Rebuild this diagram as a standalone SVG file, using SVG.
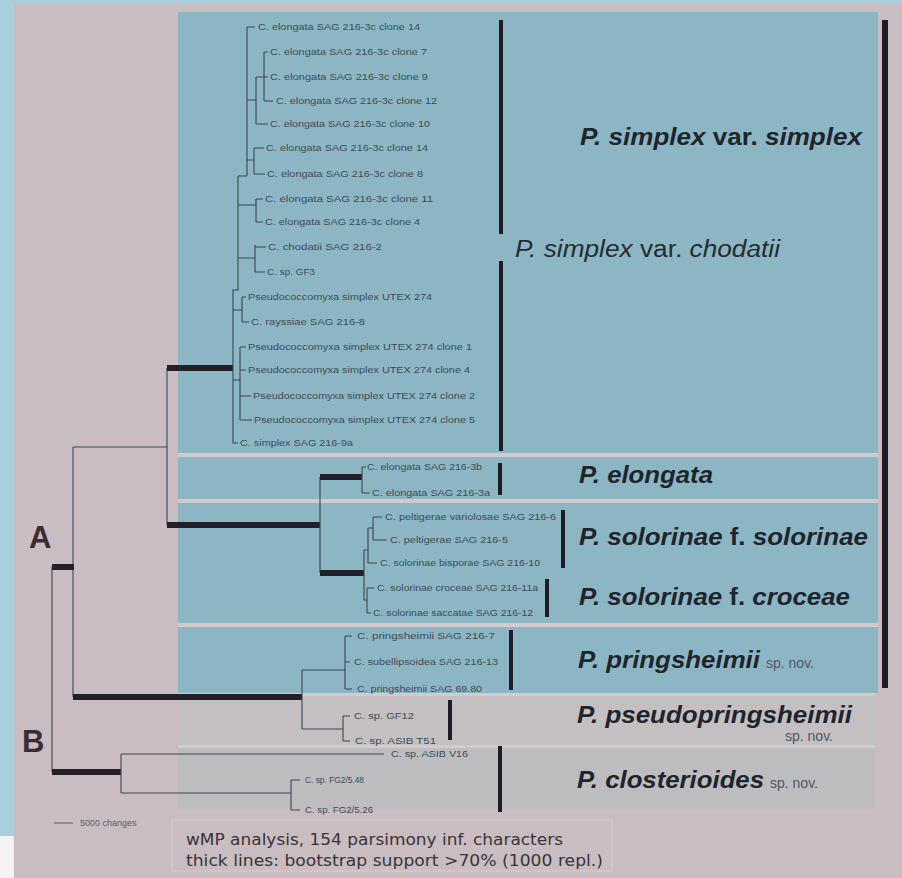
<svg xmlns="http://www.w3.org/2000/svg" width="902" height="878" viewBox="0 0 902 878">
  <style>
    .bg { fill: #c9bdc1; }
    .frame { fill: #a8cfdb; }
    .panel { fill: #8cb6c4; }
    .panel-grey { fill: #c4bfc1; }
    .panel-grey2 { fill: #bdbcbf; }
    .gap { fill: #d2cace; }
    .br { fill: none; stroke: #3b4650; stroke-width: 1.1; }
    .thick { fill: none; stroke: #23202a; stroke-width: 6; stroke-linecap: butt; }
    .bar { fill: #1f1c26; }
    .tip { font-family: "Liberation Sans", Arial, sans-serif; font-size: 8.5px; fill: #3e4b55; }
    .sp { font-family: "Liberation Sans", Arial, sans-serif; font-size: 23px; font-weight: bold; font-style: italic; fill: #1f252c; }
    .sp-reg { font-family: "Liberation Sans", Arial, sans-serif; font-size: 23px; font-style: italic; fill: #252b33; }
    .up { font-style: normal; }
    .nov { font-family: "Liberation Sans", Arial, sans-serif; font-size: 14px; font-weight: normal; font-style: normal; fill: #4d5863; }
    .clade { font-family: "Liberation Sans", Arial, sans-serif; font-size: 31px; font-weight: bold; fill: #3a2d38; }
    .cap { font-family: "DejaVu Sans", Verdana, sans-serif; font-size: 15px; fill: #3a3338; }
    .scale { font-family: "Liberation Sans", Arial, sans-serif; font-size: 9px; fill: #5a5d66; }
  </style>

  <!-- background and frame -->
  <rect class="bg" x="0" y="0" width="902" height="878"/>
  <rect class="frame" x="0" y="0" width="902" height="4"/>
  <rect class="frame" x="0" y="0" width="14" height="836"/>
  <rect x="0" y="836" width="14" height="42" fill="#f4f2f3"/>

  <!-- clade panels -->
  <g id="panels">
    <rect class="gap" x="178" y="452" width="700" height="6"/>
    <rect class="gap" x="178" y="498" width="700" height="6"/>
    <rect class="gap" x="178" y="622" width="700" height="6"/>
    <rect class="gap" x="178" y="692" width="697" height="5"/>
    <rect class="gap" x="178" y="744" width="697" height="5"/>
    <rect class="panel" x="178" y="12" width="700" height="441"/>
    <rect class="panel" x="178" y="457" width="700" height="42"/>
    <rect class="panel" x="178" y="503" width="700" height="120"/>
    <rect class="panel" x="178" y="627" width="700" height="66"/>
    <rect class="panel-grey" x="178" y="696" width="697" height="49"/>
    <rect class="panel-grey2" x="178" y="748" width="697" height="61"/>
  </g>

  <!-- tree branches -->
  <g id="connectors">
    <!-- backbone -->
    <path class="br" d="M52,567 V772"/>
    <path class="br" d="M73,447 V697"/>
    <path class="br" d="M73,447 H167 V525"/>
    <path class="br" d="M167,368 V447"/>
    <path class="thick" d="M52,567 H74"/>
    <path class="thick" d="M52,772 H121"/>
    <path class="thick" d="M73,697 H302"/>
    <path class="thick" d="M167,368 H233"/>
    <path class="thick" d="M167,525 H320"/>

    <!-- simplex / chodatii clade -->
    <path class="br" d="M238,176 V290 H233 V443 H238"/>
    <path class="br" d="M238,176 H247 M247,27 V176 M247,27 H255"/>
    <path class="br" d="M247,100 H256 M256,77 V124 M256,77 H264 M264,52 V101 M264,52 H268 M264,77 H268 M264,101 H273 M256,124 H268"/>
    <path class="br" d="M247,160 H254 M254,148 V174 M254,148 H264 M254,174 H265"/>
    <path class="br" d="M238,205 H256 M256,199 V222 M256,199 H263 M256,222 H263"/>
    <path class="br" d="M238,258 H255 M255,245 V272 M255,247 H266 M255,272 H265"/>
    <path class="br" d="M233,310 H242 M242,297 V322 M242,297 H246 M242,322 H249"/>
    <path class="br" d="M233,380 H240 M240,347 V420 M240,347 H246 M240,370 H246 M240,396 H251 M240,420 H252"/>

    <!-- elongata / solorinae -->
    <path class="br" d="M320,477 V573"/>
    <path class="thick" d="M320,477 H362"/>
    <path class="thick" d="M320,573 H364"/>
    <path class="br" d="M362,467 V493 M362,467 H366 M362,493 H370"/>
    <path class="br" d="M364,550 V600 M364,550 H368 M368,528 V563 M368,528 H373 M373,517 V540 M373,517 H382 M373,540 H387 M368,563 H377"/>
    <path class="br" d="M364,600 H367 M367,588 V613 M367,588 H374 M367,613 H371"/>

    <!-- pringsheimii / pseudopringsheimii -->
    <path class="br" d="M302,670 V729"/>
    <path class="br" d="M302,670 H345 M345,636 V689 M345,636 H352 M345,662 H350 M345,689 H352"/>
    <path class="br" d="M302,729 H343 M343,716 V741 M343,716 H350 M343,741 H350"/>

    <!-- closterioides -->
    <path class="br" d="M121,754 V793 M121,754 H384 M121,793 H291 M291,780 V810 M291,780 H300 M291,810 H300"/>
  </g>

  <!-- terminal labels -->
  <g id="tips">
    <text class="tip" x="258" y="30" textLength="162" lengthAdjust="spacingAndGlyphs">C. elongata SAG 216-3c clone 14</text>
    <text class="tip" x="270" y="55" textLength="157" lengthAdjust="spacingAndGlyphs">C. elongata SAG 216-3c clone 7</text>
    <text class="tip" x="270" y="80" textLength="158" lengthAdjust="spacingAndGlyphs">C. elongata SAG 216-3c clone 9</text>
    <text class="tip" x="276" y="104" textLength="161" lengthAdjust="spacingAndGlyphs">C. elongata SAG 216-3c clone 12</text>
    <text class="tip" x="270" y="127" textLength="160" lengthAdjust="spacingAndGlyphs">C. elongata SAG 216-3c clone 10</text>
    <text class="tip" x="266" y="151" textLength="162" lengthAdjust="spacingAndGlyphs">C. elongata SAG 216-3c clone 14</text>
    <text class="tip" x="267" y="177" textLength="156" lengthAdjust="spacingAndGlyphs">C. elongata SAG 216-3c clone 8</text>
    <text class="tip" x="265" y="202" textLength="168" lengthAdjust="spacingAndGlyphs">C. elongata SAG 216-3c clone 11</text>
    <text class="tip" x="265" y="225" textLength="155" lengthAdjust="spacingAndGlyphs">C. elongata SAG 216-3c clone 4</text>
    <text class="tip" x="268" y="250" textLength="114" lengthAdjust="spacingAndGlyphs">C. chodatii SAG 216-2</text>
    <text class="tip" x="267" y="275" textLength="48" lengthAdjust="spacingAndGlyphs">C. sp. GF3</text>
    <text class="tip" x="248" y="300" textLength="184" lengthAdjust="spacingAndGlyphs">Pseudococcomyxa simplex UTEX 274</text>
    <text class="tip" x="251" y="325" textLength="114" lengthAdjust="spacingAndGlyphs">C. rayssiae SAG 216-8</text>
    <text class="tip" x="248" y="350" textLength="224" lengthAdjust="spacingAndGlyphs">Pseudococcomyxa simplex UTEX 274 clone 1</text>
    <text class="tip" x="248" y="373" textLength="222" lengthAdjust="spacingAndGlyphs">Pseudococcomyxa simplex UTEX 274 clone 4</text>
    <text class="tip" x="253" y="399" textLength="222" lengthAdjust="spacingAndGlyphs">Pseudococcomyxa simplex UTEX 274 clone 2</text>
    <text class="tip" x="254" y="423" textLength="221" lengthAdjust="spacingAndGlyphs">Pseudococcomyxa simplex UTEX 274 clone 5</text>
    <text class="tip" x="240" y="446" textLength="113" lengthAdjust="spacingAndGlyphs">C. simplex SAG 216-9a</text>
    <text class="tip" x="367" y="470" textLength="115" lengthAdjust="spacingAndGlyphs">C. elongata SAG 216-3b</text>
    <text class="tip" x="372" y="496" textLength="118" lengthAdjust="spacingAndGlyphs">C. elongata SAG 216-3a</text>
    <text class="tip" x="385" y="520" textLength="171" lengthAdjust="spacingAndGlyphs">C. peltigerae variolosae SAG 216-6</text>
    <text class="tip" x="390" y="543" textLength="118" lengthAdjust="spacingAndGlyphs">C. peltigerae SAG 216-5</text>
    <text class="tip" x="380" y="566" textLength="160" lengthAdjust="spacingAndGlyphs">C. solorinae bisporae SAG 216-10</text>
    <text class="tip" x="377" y="591" textLength="161" lengthAdjust="spacingAndGlyphs">C. solorinae croceae SAG 216-11a</text>
    <text class="tip" x="373" y="616" textLength="160" lengthAdjust="spacingAndGlyphs">C. solorinae saccatae SAG 216-12</text>
    <text class="tip" x="357" y="639" textLength="138" lengthAdjust="spacingAndGlyphs">C. pringsheimii SAG 216-7</text>
    <text class="tip" x="354" y="665" textLength="144" lengthAdjust="spacingAndGlyphs">C. subellipsoidea SAG 216-13</text>
    <text class="tip" x="357" y="692" textLength="125" lengthAdjust="spacingAndGlyphs">C. pringsheimii SAG 69.80</text>
    <text class="tip" x="354" y="719" textLength="60" lengthAdjust="spacingAndGlyphs">C. sp. GF12</text>
    <text class="tip" x="355" y="744" textLength="81" lengthAdjust="spacingAndGlyphs">C. sp. ASIB T51</text>
    <text class="tip" x="391" y="757" textLength="77" lengthAdjust="spacingAndGlyphs">C. sp. ASIB V16</text>
    <text class="tip" x="305" y="783" textLength="59" lengthAdjust="spacingAndGlyphs">C. sp. FG2/5.48</text>
    <text class="tip" x="305" y="813" textLength="68" lengthAdjust="spacingAndGlyphs">C. sp. FG2/5.26</text>
  </g>

  <!-- clade bars -->
  <g id="bars">
    <rect class="bar" x="499" y="20" width="4" height="214"/>
    <rect class="bar" x="499" y="261" width="4" height="190"/>
    <rect class="bar" x="882" y="20" width="6" height="668"/>
    <rect class="bar" x="498" y="463" width="4" height="32"/>
    <rect class="bar" x="561" y="510" width="4" height="58"/>
    <rect class="bar" x="545" y="579" width="4" height="38"/>
    <rect class="bar" x="509" y="630" width="4" height="60"/>
    <rect class="bar" x="448" y="700" width="4" height="40"/>
    <rect class="bar" x="498" y="746" width="4" height="66"/>
  </g>

  <!-- taxon names -->
  <g id="taxa">
    <text class="sp" x="580" y="145" textLength="282" lengthAdjust="spacingAndGlyphs">P. simplex <tspan class="up">var.</tspan> simplex</text>
    <text class="sp-reg" x="515" y="257" textLength="265" lengthAdjust="spacingAndGlyphs">P. simplex <tspan class="up">var.</tspan> chodatii</text>
    <text class="sp" x="579" y="483" textLength="134" lengthAdjust="spacingAndGlyphs">P. elongata</text>
    <text class="sp" x="579" y="545" textLength="289" lengthAdjust="spacingAndGlyphs">P. solorinae <tspan class="up">f.</tspan> solorinae</text>
    <text class="sp" x="579" y="605" textLength="271" lengthAdjust="spacingAndGlyphs">P. solorinae <tspan class="up">f.</tspan> croceae</text>
    <text class="sp" x="578" y="668"><tspan textLength="182" lengthAdjust="spacingAndGlyphs">P. pringsheimii</tspan><tspan class="nov" dx="6">sp. nov.</tspan></text>
    <text class="sp" x="577" y="723" textLength="275" lengthAdjust="spacingAndGlyphs">P. pseudopringsheimii</text>
    <text class="nov" x="785" y="741">sp. nov.</text>
    <text class="sp" x="577" y="788"><tspan textLength="187" lengthAdjust="spacingAndGlyphs">P. closterioides</tspan><tspan class="nov" dx="6">sp. nov.</tspan></text>
  </g>

  <!-- clade letters -->
  <g id="clade-A"><text class="clade" x="29" y="548">A</text></g>
  <g id="clade-B"><text class="clade" x="22" y="752">B</text></g>

  <!-- scale bar -->
  <g id="scale">
    <path d="M54,823 H73" stroke="#5a5d66" stroke-width="1"/>
    <text class="scale" x="80" y="826">5000 changes</text>
  </g>

  <!-- caption -->
  <g id="caption">
    <rect x="172" y="820" width="440" height="51" fill="none" stroke="#d6ccd1" stroke-width="1"/>
    <text class="cap" x="186" y="845" textLength="377" lengthAdjust="spacingAndGlyphs">wMP analysis, 154 parsimony inf. characters</text>
    <text class="cap" x="186" y="866" textLength="417" lengthAdjust="spacingAndGlyphs">thick lines: bootstrap support &gt;70% (1000 repl.)</text>
  </g>
</svg>
